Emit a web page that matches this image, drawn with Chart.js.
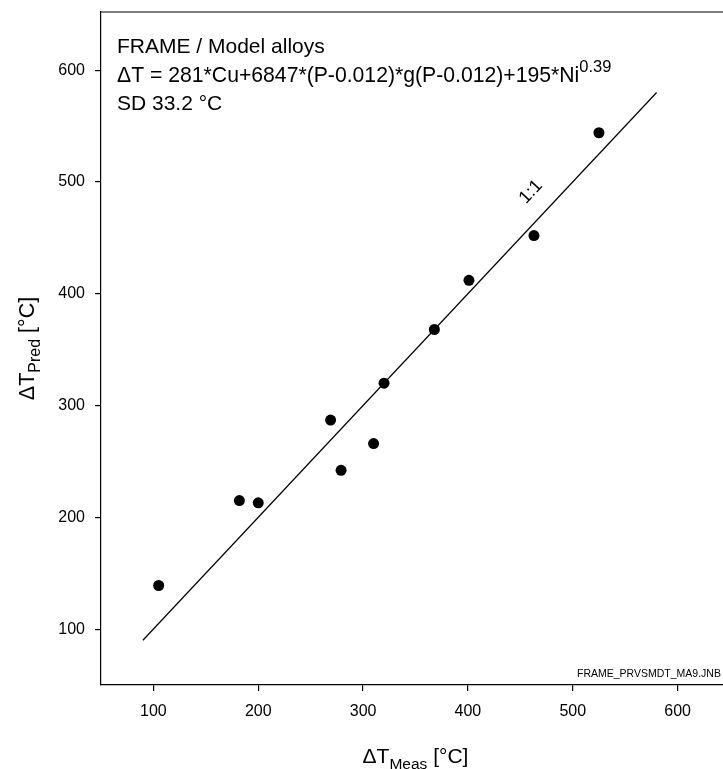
<!DOCTYPE html>
<html>
<head>
<meta charset="utf-8">
<script src="https://cdn.jsdelivr.net/npm/chart.js@4/dist/chart.umd.min.js"></script>
<style>
html, body { margin: 0; padding: 0; background: #fff; overflow: hidden; }
#wrap { width: 745px; height: 769px; }
</style>
</head>
<body>
<div id="wrap"><canvas id="chart" width="745" height="769"></canvas></div>
<script>
// measured vs predicted transition temperature shift, model alloys
const measured  = [105, 182, 200, 269, 279, 310, 320, 368, 401, 463, 525];
const predicted = [139, 215, 213, 287, 242, 266, 320, 368, 412, 452, 544];

// ends of the 1:1 line
const oneToOne = [90, 580];

const tickValues = [100, 200, 300, 400, 500, 600];

const FONT = '"Liberation Sans", Arial, sans-serif';

const points = measured.map((m, i) => ({ x: m, y: predicted[i] }));
const diag = oneToOne.map(v => ({ x: v, y: v }));

// text with sub/superscripts drawn piece by piece
function drawParts(ctx, parts, x, y, align) {
  let w = 0;
  parts.forEach(p => {
    ctx.font = p.size + 'px ' + FONT;
    p.w = ctx.measureText(p.t).width;
    w += p.w;
  });
  let cx = align === 'center' ? x - w / 2 : x;
  ctx.textAlign = 'left';
  ctx.textBaseline = 'alphabetic';
  parts.forEach(p => {
    ctx.font = p.size + 'px ' + FONT;
    ctx.fillText(p.t, cx, y + (p.dy || 0));
    cx += p.w;
  });
}

const decorations = {
  id: 'decorations',
  afterDraw(chart) {
    const ctx = chart.ctx;
    const area = chart.chartArea;
    const xs = chart.scales.x;
    const ys = chart.scales.y;
    ctx.save();
    ctx.fillStyle = '#000';
    ctx.strokeStyle = '#000';

    // frame top and right
    ctx.lineWidth = 1.2;
    ctx.beginPath();
    ctx.moveTo(area.left, area.top);
    ctx.lineTo(area.right, area.top);
    ctx.lineTo(area.right, area.bottom);
    ctx.stroke();

    // header text
    drawParts(ctx, [{ t: 'FRAME / Model alloys', size: 21 }], 117, 53);
    drawParts(ctx, [
      { t: '\u0394T = 281*Cu+6847*(P-0.012)*g(P-0.012)+195*Ni', size: 21.2 },
      { t: '0.39', size: 16.5, dy: -10 }
    ], 117, 82);
    drawParts(ctx, [{ t: 'SD 33.2 \u00B0C', size: 21 }], 117, 110);

    // 1:1 label along the diagonal
    const lx = xs.getPixelForValue(460);
    const ly = ys.getPixelForValue(491);
    const ang = Math.atan2(ys.getPixelForValue(580) - ys.getPixelForValue(90),
                           xs.getPixelForValue(580) - xs.getPixelForValue(90));
    ctx.save();
    ctx.translate(lx, ly);
    ctx.rotate(ang);
    ctx.font = '18px ' + FONT;
    ctx.textAlign = 'center';
    ctx.textBaseline = 'middle';
    ctx.fillText('1:1', 0, 0);
    ctx.restore();

    // file tag
    ctx.font = '10.5px ' + FONT;
    ctx.textAlign = 'left';
    ctx.textBaseline = 'alphabetic';
    ctx.fillText('FRAME_PRVSMDT_MA9.JNB', 577, 677);

    // axis titles
    const xc = (area.left + area.right) / 2;
    drawParts(ctx, [
      { t: '\u0394T', size: 21 },
      { t: 'Meas', size: 15.5, dy: 6 },
      { t: ' [\u00B0C]', size: 21 }
    ], xc, 763, 'center');

    ctx.save();
    ctx.translate(34, (area.top + area.bottom) / 2);
    ctx.rotate(-Math.PI / 2);
    drawParts(ctx, [
      { t: '\u0394T', size: 21.5 },
      { t: 'Pred', size: 16, dy: 6 },
      { t: ' [\u00B0C]', size: 21.5 }
    ], 0, 0, 'center');
    ctx.restore();

    ctx.restore();
  }
};

function noPadding(s) {
  s.paddingTop = 0;
  s.paddingBottom = 0;
  s.paddingLeft = 0;
  s.paddingRight = 0;
}

const axisCommon = {
  type: 'linear',
  afterBuildTicks: s => { s.ticks = tickValues.map(v => ({ value: v })); },
  grid: { drawOnChartArea: false, drawTicks: true, tickLength: 6, color: '#000', lineWidth: 1.2 },
  border: { display: true, color: '#000', width: 1.2 },
  title: { display: false }
};

new Chart(document.getElementById('chart'), {
  data: {
    datasets: [
      {
        type: 'line',
        data: diag,
        borderColor: '#000',
        borderWidth: 1.2,
        pointRadius: 0,
        fill: false
      },
      {
        type: 'scatter',
        data: points,
        backgroundColor: '#000',
        borderWidth: 0,
        pointRadius: 5.5
      }
    ]
  },
  options: {
    responsive: false,
    animation: false,
    devicePixelRatio: 1,
    layout: { padding: { left: 0, top: 12, right: 15, bottom: 0 } },
    plugins: { legend: { display: false }, tooltip: { enabled: false } },
    scales: {
      x: Object.assign({}, axisCommon, {
        min: 50, max: 650,
        afterFit: s => { s.height = 84; noPadding(s); },
        ticks: { color: '#000', font: { family: FONT, size: 16 }, padding: 11, maxRotation: 0 }
      }),
      y: Object.assign({}, axisCommon, {
        min: 50, max: 652,
        afterFit: s => { s.width = 101; noPadding(s); },
        ticks: { color: '#000', font: { family: FONT, size: 16 }, padding: 10 }
      })
    }
  },
  plugins: [decorations]
});
</script>
</body>
</html>
